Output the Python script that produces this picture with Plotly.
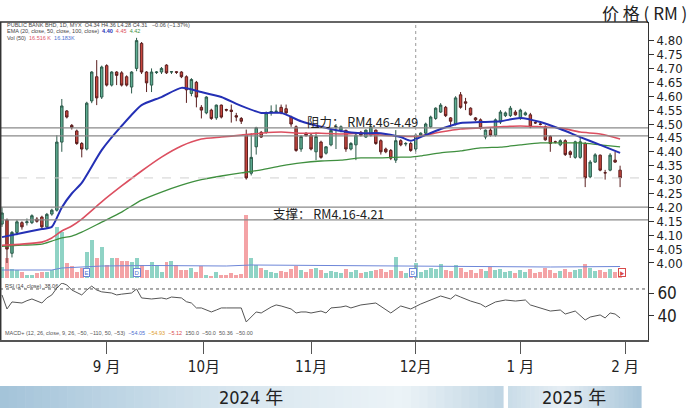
import plotly.graph_objects as go

W, H = 690, 408

# ---------------- data ----------------
opens = [4.14, 4.155, 4.035, 4.11, 4.145, 4.145, 4.145, 4.158, 4.165, 4.13,
         4.176, 4.19, 4.435, 4.547, 4.495, 4.475, 4.43, 4.41, 4.583, 4.67,
         4.597, 4.71, 4.64, 4.687, 4.684, 4.67, 4.633, 4.70, 4.79, 4.687,
         4.64, 4.685, 4.687, 4.712, 4.687, 4.688, 4.687, 4.67, 4.61, 4.65,
         4.56, 4.54, 4.55, 4.522, 4.568, 4.552, 4.55, 4.53, 4.52, 4.46,
         4.323, 4.418, 4.47, 4.47, 4.54, 4.545, 4.56, 4.555, 4.525, 4.49,
         4.41, 4.467, 4.46, 4.40, 4.435, 4.395, 4.425, 4.488, 4.478, 4.477,
         4.41, 4.425, 4.47, 4.453, 4.46, 4.478, 4.44, 4.41, 4.405, 4.37,
         4.44, 4.428, 4.43, 4.41, 4.46, 4.467, 4.49, 4.52, 4.543, 4.56,
         4.522, 4.50, 4.605, 4.58, 4.557, 4.522, 4.515, 4.453, 4.478, 4.46,
         4.507, 4.53, 4.53, 4.543, 4.522, 4.533, 4.533, 4.505, 4.50, 4.49,
         4.455, 4.436, 4.425, 4.44, 4.40, 4.38, 4.38, 4.43, 4.31, 4.363,
         4.388, 4.325, 4.334, 4.37, 4.334]
highs = [4.20, 4.16, 4.115, 4.155, 4.15, 4.16, 4.175, 4.165, 4.17, 4.18,
         4.195, 4.46, 4.59, 4.55, 4.50, 4.48, 4.435, 4.58, 4.69, 4.73,
         4.71, 4.715, 4.69, 4.69, 4.69, 4.675, 4.69, 4.81, 4.795, 4.69,
         4.70, 4.69, 4.705, 4.715, 4.69, 4.69, 4.69, 4.675, 4.665, 4.655,
         4.568, 4.60, 4.555, 4.57, 4.57, 4.555, 4.57, 4.54, 4.525, 4.48,
         4.467, 4.49, 4.475, 4.545, 4.567, 4.57, 4.57, 4.57, 4.53, 4.495,
         4.46, 4.47, 4.465, 4.47, 4.44, 4.42, 4.48, 4.50, 4.495, 4.48,
         4.435, 4.465, 4.475, 4.48, 4.495, 4.48, 4.445, 4.415, 4.41, 4.478,
         4.445, 4.435, 4.435, 4.465, 4.47, 4.505, 4.53, 4.56, 4.575, 4.565,
         4.525, 4.60, 4.615, 4.594, 4.56, 4.525, 4.52, 4.48, 4.485, 4.52,
         4.55, 4.545, 4.565, 4.55, 4.555, 4.545, 4.54, 4.51, 4.505, 4.495,
         4.46, 4.44, 4.445, 4.445, 4.405, 4.44, 4.45, 4.435, 4.37, 4.395,
         4.39, 4.335, 4.395, 4.40, 4.35]
lows = [4.13, 4.00, 4.02, 4.10, 4.12, 4.135, 4.14, 4.145, 4.125, 4.125,
        4.17, 4.185, 4.40, 4.52, 4.48, 4.425, 4.38, 4.405, 4.575, 4.568,
        4.59, 4.635, 4.635, 4.64, 4.635, 4.635, 4.61, 4.69, 4.68, 4.615,
        4.615, 4.68, 4.68, 4.68, 4.68, 4.68, 4.665, 4.576, 4.60, 4.56,
        4.52, 4.535, 4.515, 4.515, 4.52, 4.545, 4.505, 4.51, 4.50, 4.30,
        4.315, 4.39, 4.45, 4.465, 4.53, 4.54, 4.535, 4.535, 4.49, 4.40,
        4.40, 4.455, 4.405, 4.37, 4.375, 4.39, 4.42, 4.41, 4.47, 4.40,
        4.405, 4.37, 4.455, 4.45, 4.455, 4.425, 4.39, 4.395, 4.37, 4.36,
        4.42, 4.42, 4.40, 4.40, 4.455, 4.46, 4.485, 4.515, 4.54, 4.525,
        4.49, 4.495, 4.555, 4.55, 4.53, 4.51, 4.48, 4.445, 4.455, 4.455,
        4.50, 4.525, 4.525, 4.53, 4.515, 4.53, 4.485, 4.50, 4.495, 4.44,
        4.40, 4.43, 4.42, 4.385, 4.378, 4.375, 4.375, 4.273, 4.305, 4.36,
        4.33, 4.30, 4.33, 4.36, 4.273]
closes = [4.18, 4.05, 4.11, 4.148, 4.13, 4.148, 4.17, 4.15, 4.13, 4.175,
          4.19, 4.435, 4.565, 4.525, 4.487, 4.43, 4.41, 4.575, 4.687, 4.594,
          4.705, 4.64, 4.687, 4.675, 4.64, 4.64, 4.687, 4.80, 4.687, 4.648,
          4.687, 4.687, 4.70, 4.684, 4.688, 4.686, 4.67, 4.623, 4.66, 4.597,
          4.55, 4.597, 4.52, 4.568, 4.525, 4.55, 4.545, 4.525, 4.51, 4.306,
          4.38, 4.487, 4.453, 4.54, 4.545, 4.546, 4.54, 4.54, 4.50, 4.405,
          4.455, 4.458, 4.41, 4.455, 4.38, 4.418, 4.477, 4.49, 4.49, 4.41,
          4.43, 4.46, 4.46, 4.478, 4.49, 4.43, 4.40, 4.40, 4.377, 4.44,
          4.425, 4.43, 4.405, 4.46, 4.467, 4.50, 4.525, 4.557, 4.568, 4.53,
          4.51, 4.594, 4.56, 4.575, 4.533, 4.515, 4.485, 4.478, 4.46, 4.515,
          4.543, 4.54, 4.557, 4.533, 4.55, 4.54, 4.49, 4.504, 4.499, 4.443,
          4.43, 4.435, 4.44, 4.39, 4.39, 4.436, 4.436, 4.306, 4.363, 4.389,
          4.334, 4.324, 4.388, 4.363, 4.306]
volumes = [11, 20, 9, 8, 6, 3, 3, 5, 6, 6, 8, 51, 46, 15, 12, 6, 10, 26, 38, 20,
           31, 13, 20, 20, 17, 17, 16, 20, 13, 8, 16, 13, 6, 16, 17, 13, 8, 8, 10, 6,
           12, 3, 2, 6, 3, 3, 5, 3, 4, 63, 20, 13, 10, 8, 6, 5, 7, 6, 9, 12,
           8, 6, 9, 10, 8, 5, 7, 6, 5, 9, 6, 8, 5, 6, 7, 8, 9, 6, 8, 21,
           7, 5, 7, 15, 6, 8, 10, 9, 14, 8, 7, 13, 10, 6, 8, 5, 9, 7, 11, 8,
           9, 6, 7, 5, 8, 6, 9, 5, 6, 10, 8, 5, 7, 9, 6, 8, 9, 14, 10, 7,
           8, 6, 9, 6, 10]

ma_idx = [0, 4, 8, 10, 12, 14, 16, 20, 24, 28, 32, 36, 40, 44, 48, 52, 56, 60,
          64, 68, 72, 76, 80, 82, 84, 88, 92, 96, 100, 104, 108, 112, 116, 120, 124]
ema20 = [4.093, 4.108, 4.122, 4.13, 4.20, 4.25, 4.288, 4.406, 4.493, 4.568, 4.597,
         4.63, 4.615, 4.597, 4.565, 4.54, 4.54, 4.51, 4.49, 4.475, 4.467, 4.467,
         4.453, 4.44, 4.453, 4.482, 4.504, 4.507, 4.51, 4.522, 4.507, 4.482,
         4.453, 4.425, 4.396]
ema50 = [4.064, 4.068, 4.075, 4.09, 4.115, 4.133, 4.158, 4.22, 4.277, 4.331, 4.381,
         4.421, 4.446, 4.453, 4.46, 4.467, 4.471, 4.467, 4.467, 4.464, 4.467, 4.46,
         4.457, 4.455, 4.457, 4.471, 4.482, 4.486, 4.49, 4.493, 4.49, 4.486,
         4.471, 4.464, 4.446]
ema100 = [4.06, 4.064, 4.068, 4.079, 4.09, 4.097, 4.111, 4.147, 4.183, 4.226, 4.255,
          4.28, 4.30, 4.313, 4.324, 4.335, 4.349, 4.36, 4.367, 4.37, 4.378, 4.378,
          4.381, 4.381, 4.385, 4.396, 4.403, 4.414, 4.417, 4.425, 4.432, 4.432,
          4.432, 4.425, 4.418]

vol_ma_idx = [0, 10, 12, 20, 30, 45, 50, 70, 90, 110, 124]
vol_ma = [8, 8, 10, 12, 12.5, 12, 13, 12.5, 11.5, 11, 11.5]

rsi_idx = [0, 1, 2, 4, 5, 6, 8, 9, 10, 11, 12, 13, 14, 16, 17, 18, 19, 20, 22, 23,
           24, 26, 27, 28, 30, 32, 33, 34, 36, 37, 38, 39, 40, 42, 43, 44, 45, 46, 48,
           49, 50, 51, 52, 54, 55, 56, 58, 59, 60, 61, 62, 64, 65, 66, 68, 69, 70,
           72, 75, 77, 78, 80, 82, 84, 86, 88, 90, 91, 92, 94, 96, 97, 99, 101, 103,
           105, 106, 109, 110, 112, 113, 115, 117, 118, 120, 121, 122, 123, 124]
rsi_val = [58.3, 46.1, 52.2, 51.3, 53.3, 54.8, 51.3, 55.7, 58.3, 64.3, 68.7, 67.0,
           62.6, 58.3, 62.6, 66.0, 62.6, 61.0, 60.0, 58.3, 59.0, 60.0, 63.5, 55.7,
           54.8, 55.7, 54.8, 56.5, 55.7, 52.4, 51.3, 47.0, 47.0, 43.5, 45.2, 47.0,
           47.0, 47.0, 47.0, 34.8, 39.1, 43.5, 42.6, 47.8, 49.6, 48.7, 46.1, 42.6,
           43.5, 43.5, 42.6, 44.3, 42.6, 47.0, 47.8, 48.7, 47.0, 49.6, 51.3, 45.2,
           42.6, 48.7, 46.1, 50.4, 53.9, 57.4, 54.8, 58.3, 56.5, 53.0, 50.4, 47.8,
           52.2, 53.9, 53.0, 53.9, 49.6, 46.1, 44.3, 45.2, 41.7, 44.3, 36.5, 39.1,
           40.9, 38.3, 42.6, 41.7, 38.3]

price_ticks = [4.00, 4.05, 4.10, 4.15, 4.20, 4.25, 4.30, 4.35, 4.40, 4.45,
               4.50, 4.55, 4.60, 4.65, 4.70, 4.75, 4.80]
rsi_ticks = [40, 60]
month_tick_idx = [21, 40.5, 62, 83, 104, 125]
month_labels = ["9 月", "10月", "11月", "12月", "1 月", "2 月"]
resist_levels = [4.457, 4.486]
support_levels = [4.155, 4.201]
rsi_upper_band = 63.5
event_idx = [17, 27, 82.5]
event_text = ["E", "D", "D"]

# ---------------- helpers ----------------
def fx(p):
    return p / W

def fy(p):
    return 1 - p / H

NARROW = "Liberation Sans Narrow, DejaVu Sans Condensed, Arial Narrow, Liberation Sans, Noto Sans CJK SC"
SANS = "Liberation Sans, Arial, Noto Sans CJK SC"
CJK = "Noto Sans CJK SC, Liberation Sans"

n = len(opens)
xs = list(range(n))
UP_FILL, UP_LINE = "#5fae93", "#2c5a4a"
DN_FILL, DN_LINE = "#c9463d", "#5a1e1e"
vol_colors = ["#8fd3c5" if c >= o else "#f4a3a6" for o, c in zip(opens, closes)]

fig = go.Figure()

fig.add_trace(go.Bar(x=xs, y=volumes, marker=dict(color=vol_colors, line=dict(width=0)),
                     width=0.8, yaxis="y", xaxis="x", showlegend=False))
fig.add_trace(go.Scatter(x=vol_ma_idx, y=vol_ma, mode="lines", yaxis="y",
                         line=dict(color="#6d86d8", width=1), showlegend=False))

fig.add_trace(go.Candlestick(x=xs, open=opens, high=highs, low=lows, close=closes,
                             yaxis="y2", xaxis="x", whiskerwidth=0,
                             increasing=dict(line=dict(color=UP_LINE, width=1), fillcolor=UP_FILL),
                             decreasing=dict(line=dict(color=DN_LINE, width=1), fillcolor=DN_FILL),
                             showlegend=False))
fig.add_trace(go.Scatter(x=ma_idx, y=ema100, mode="lines", yaxis="y2",
                         line=dict(color="#3f8f3f", width=1.3, shape="spline", smoothing=0.6),
                         showlegend=False))
fig.add_trace(go.Scatter(x=ma_idx, y=ema50, mode="lines", yaxis="y2",
                         line=dict(color="#dc4f60", width=1.6, shape="spline", smoothing=0.6),
                         showlegend=False))
fig.add_trace(go.Scatter(x=ma_idx, y=ema20, mode="lines", yaxis="y2",
                         line=dict(color="#2430b5", width=2, shape="spline", smoothing=0.6),
                         showlegend=False))

fig.add_trace(go.Scatter(x=rsi_idx, y=rsi_val, mode="lines", yaxis="y3", xaxis="x",
                         line=dict(color="#555555", width=1), showlegend=False))

# ---------------- shapes ----------------
shapes = []
right = fx(648)
for lv in resist_levels + support_levels:
    shapes.append(dict(type="line", xref="paper", yref="y2", x0=0, x1=right, y0=lv, y1=lv,
                       line=dict(color="#8a8a8a", width=1.3)))
shapes.append(dict(type="line", xref="paper", yref="y2", x0=0, x1=right,
                   y0=closes[-1], y1=closes[-1], line=dict(color="#d0d0d0", width=1, dash="dash")))
shapes.append(dict(type="line", xref="paper", yref="y3", x0=0, x1=right,
                   y0=rsi_upper_band, y1=rsi_upper_band, line=dict(color="#555", width=1, dash="dot")))
shapes.append(dict(type="line", xref="x", yref="paper", x0=month_tick_idx[3], x1=month_tick_idx[3],
                   y0=fy(340), y1=fy(22), line=dict(color="#999", width=1, dash="dot")))
# frame
shapes.append(dict(type="line", xref="paper", yref="paper", x0=0, x1=right, y0=fy(22), y1=fy(22),
                   line=dict(color="#333", width=1.5)))
shapes.append(dict(type="line", xref="paper", yref="paper", x0=fx(0.7), x1=fx(0.7), y0=fy(340), y1=fy(22),
                   line=dict(color="#333", width=1.5)))


def hex2rgb(h):
    h = h.lstrip("#")
    return [int(h[i:i + 2], 16) for i in (0, 2, 4)]


def grad_color(stops, t):
    for (t0, c0), (t1, c1) in zip(stops[:-1], stops[1:]):
        if t0 <= t <= t1:
            a = (t - t0) / (t1 - t0) if t1 > t0 else 0
            r0, r1 = hex2rgb(c0), hex2rgb(c1)
            return "rgb(%d,%d,%d)" % tuple(round(r0[k] + (r1[k] - r0[k]) * a) for k in range(3))
    return stops[-1][1]


def band(x0, x1, stops, nslices=60):
    step = (x1 - x0) / nslices
    for k in range(nslices):
        t = (k + 0.5) / nslices
        shapes.append(dict(type="rect", xref="paper", yref="paper", layer="below",
                           x0=fx(x0 + k * step), x1=fx(x0 + (k + 1) * step + 0.6),
                           y0=fy(408), y1=fy(386), line=dict(width=0),
                           fillcolor=grad_color(stops, t)))


band(0, 503, [(0, "#a3c3d9"), (0.45, "#d6e5ee"), (0.8, "#ecf3f7"), (1.0, "#bfd5e3")])
band(508, 641, [(0, "#c9dce8"), (0.4, "#e6eef4"), (1.0, "#a7c5d9")], 30)

# ---------------- annotations ----------------
ann = []


def text(x, y, s, size, color="#222", family=SANS, xanchor="left"):
    ann.append(dict(xref="paper", yref="paper", x=fx(x), y=fy(y), text=s, showarrow=False,
                    xanchor=xanchor, yanchor="middle",
                    font=dict(size=size, color=color, family=family)))


text(689, 12, "价 格 ( RM )", 17, "#222", CJK, "right")
text(5, 24.5, "PUBLIC BANK BHD, 1D, MYX&nbsp;&nbsp;O4.34&nbsp;H4.36&nbsp;L4.28&nbsp;C4.31&nbsp;&nbsp;&nbsp;−0.06 (−1.37%)",
     5.5, "#444")
text(5, 31.5, "EMA (20, close, 50, close, 100, close)&nbsp;&nbsp;<b><span style='color:#2430b5'>4.40</span></b>"
     "&nbsp;&nbsp;<span style='color:#dc4f60'>4.45</span>&nbsp;&nbsp;<span style='color:#3f8f3f'>4.42</span>",
     5.5, "#444")
text(5, 38, "Vol (50)&nbsp;&nbsp;<span style='color:#e0556a'>16.516 K</span>&nbsp;&nbsp;<span style='color:#4a6fd0'>16.183K</span>",
     5.5, "#444")
text(3, 285.5, "RSI (14, close)&nbsp;&nbsp;38.06", 5.5, "#444")
text(3, 333, "MACD+ (12, 26, close, 9, 26, −50, −110, 50, −53)&nbsp;&nbsp;<span style='color:#4a6fd0'>−54.05</span>"
     "&nbsp;&nbsp;<span style='color:#e0a030'>−54.93</span>&nbsp;&nbsp;<span style='color:#d84a4a'>−5.12</span>"
     "&nbsp;&nbsp;150.0&nbsp;&nbsp;−50.0&nbsp;&nbsp;50.36&nbsp;&nbsp;−50.00", 5.5, "#555")
text(305, 121, "阻力：&nbsp;RM4.46-4.49", 12.5, "#222", CJK)
text(271, 213, "支撑：&nbsp;RM4.16-4.21", 12.5, "#222", CJK)
text(251, 397, "2024 年", 18, "#222", NARROW, "center")
text(574, 397, "2025 年", 18, "#222", NARROW, "center")

for ei, et in zip(event_idx, event_text):
    ann.append(dict(xref="x", yref="y", x=ei, y=6, text=et, showarrow=False,
                    font=dict(size=6, color="#4a6fd0", family=SANS),
                    bgcolor="white", bordercolor="#6d86d8", borderwidth=1, borderpad=0.5))
ann.append(dict(xref="x", yref="y", x=n - 0.6, y=6, text="▶", showarrow=False,
                font=dict(size=5, color="#d84a4a", family=SANS),
                bgcolor="white", bordercolor="#d84a4a", borderwidth=1, borderpad=0.5))

fig.update_layout(
    width=W, height=H, margin=dict(l=0, r=0, t=0, b=0),
    paper_bgcolor="white", plot_bgcolor="white",
    showlegend=False, shapes=shapes, annotations=ann, bargap=0,
    xaxis=dict(domain=[0, right], range=[-0.401, 129.6], anchor="y3",
               tickmode="array", tickvals=month_tick_idx, ticktext=month_labels,
               ticks="outside", ticklen=12, tickwidth=1, tickcolor="#555",
               showline=True, linecolor="#555", linewidth=2, showgrid=False, zeroline=False,
               tickfont=dict(size=15, family=NARROW, color="#222"),
               rangeslider=dict(visible=False), fixedrange=True),
    yaxis=dict(domain=[fy(283), fy(22)], range=[-5, 256], visible=False, fixedrange=True),
    yaxis2=dict(overlaying="y", side="right", anchor="x", range=[3.928, 4.867],
                tickmode="array", tickvals=price_ticks, ticktext=["%.2f" % v for v in price_ticks],
                ticks="outside", ticklen=5, tickcolor="#333", showline=True, linecolor="#333",
                linewidth=1, showgrid=False, zeroline=False,
                tickfont=dict(size=13, family=NARROW, color="#222"), fixedrange=True),
    yaxis3=dict(domain=[fy(340), fy(283)], range=[19.1, 68.7], anchor="x", side="right",
                tickmode="array", tickvals=rsi_ticks, ticktext=[str(v) for v in rsi_ticks],
                ticks="outside", ticklen=5, tickcolor="#333", showline=True, linecolor="#333",
                linewidth=1, showgrid=False, zeroline=False,
                tickfont=dict(size=17, family=NARROW, color="#222"), fixedrange=True),
)

fig.write_html("out.html", config={"displayModeBar": False})
